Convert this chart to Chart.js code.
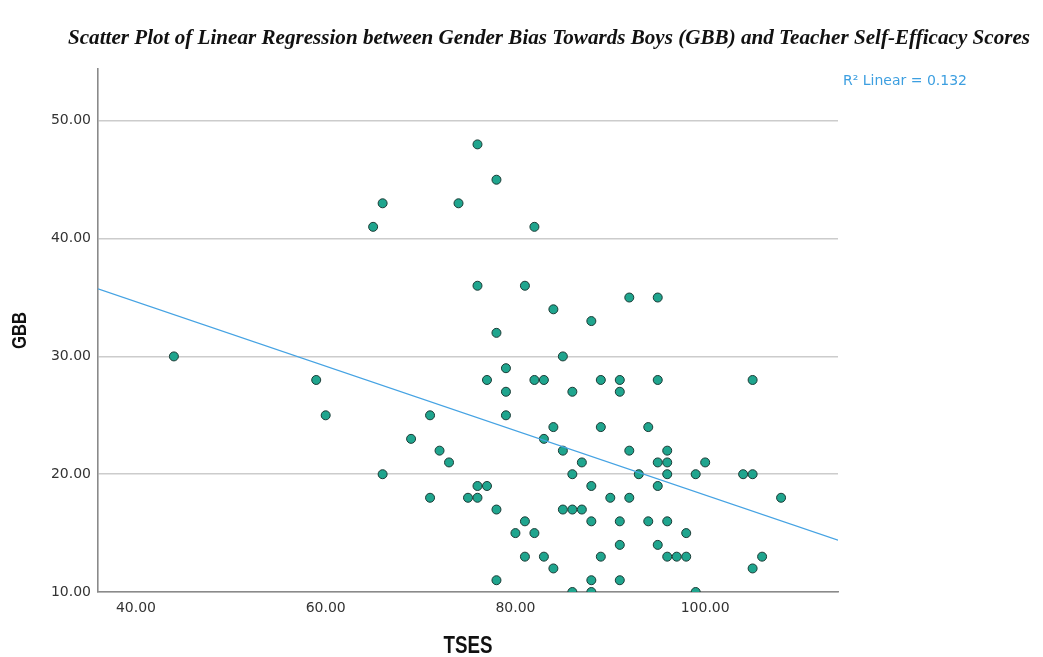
<!DOCTYPE html>
<html lang="en">
<head>
    <meta charset="UTF-8">
    <title>GBB vs TSES</title>
    <script src="https://cdn.jsdelivr.net/npm/chart.js"></script>
    <style>
        html, body { margin: 0; padding: 0; background: #ffffff; }
        #wrap { width: 1043px; height: 657px; position: relative; }
    </style>
</head>
<body>
    <div id="wrap">
        <canvas id="scatterChart" width="1043" height="657"></canvas>
    </div>
    <script>
        // TSES (x) and GBB (y) for each respondent
        const tsesValues = [44, 59, 60, 65, 66, 66, 69, 71, 71, 72, 73, 74, 75, 76, 76, 76, 76, 77, 77, 78,
            78, 78, 78, 79, 79, 79, 80, 81, 81, 81, 82, 82, 82, 83, 83, 83, 84, 84, 84, 85,
            85, 85, 86, 86, 86, 86, 87, 87, 88, 88, 88, 88, 88, 89, 89, 89, 90, 91, 91, 91,
            91, 91, 92, 92, 92, 93, 94, 94, 95, 95, 95, 95, 95, 96, 96, 96, 96, 96, 97, 98,
            98, 99, 99, 100, 104, 105, 105, 105, 106, 108];
        const gbbValues = [30, 28, 25, 41, 43, 20, 23, 25, 18, 22, 21, 43, 18, 48, 36, 19, 18, 28, 19, 45,
            32, 17, 11, 29, 27, 25, 15, 36, 16, 13, 41, 28, 15, 28, 23, 13, 34, 24, 12, 30,
            22, 17, 27, 20, 17, 10, 21, 17, 33, 19, 16, 11, 10, 28, 24, 13, 18, 28, 27, 16,
            14, 11, 35, 22, 18, 20, 24, 16, 35, 28, 21, 19, 14, 22, 21, 20, 16, 13, 13, 15,
            13, 20, 10, 21, 20, 28, 20, 12, 13, 18];

        // fitted line end points (linear fit drawn by SPSS)
        const fitX = [36, 114];
        const fitY = [35.73, 14.40];
        const rSquaredLabel = 'R\u00B2 Linear = 0.132';

        const xTicks = [40, 60, 80, 100];
        const yTicks = [10, 20, 30, 40, 50];

        const chartTitle = 'Scatter Plot of Linear Regression between Gender Bias Towards Boys (GBB) and Teacher Self-Efficacy Scores';
        const xTitle = 'TSES';
        const yTitle = 'GBB';

        const points = tsesValues.map((x, i) => ({ x: x, y: gbbValues[i] }));
        const fitLine = fitX.map((x, i) => ({ x: x, y: fitY[i] }));

        // draws text squeezed to a given width (the original uses condensed fonts)
        function squeezedText(ctx, text, cx, cy, width, rotate) {
            ctx.save();
            ctx.translate(cx, cy);
            if (rotate) ctx.rotate(-Math.PI / 2);
            const w = ctx.measureText(text).width;
            ctx.scale(width / w, 1);
            ctx.textAlign = 'center';
            ctx.fillText(text, 0, 0);
            ctx.restore();
        }

        const textPlugin = {
            id: 'textPlugin',
            afterDraw(chart) {
                const ctx = chart.ctx;
                const area = chart.chartArea;

                ctx.save();
                ctx.fillStyle = '#111111';
                ctx.textBaseline = 'alphabetic';
                ctx.font = 'italic bold 20px "Liberation Serif", "Times New Roman", serif';
                squeezedText(ctx, chartTitle, 549, 44, 962, false);

                ctx.textBaseline = 'middle';
                ctx.font = 'bold 24px "Liberation Sans", Arial, sans-serif';
                squeezedText(ctx, xTitle, (area.left + area.right) / 2, 646, 49, false);
                ctx.font = 'bold 20px "Liberation Sans", Arial, sans-serif';
                squeezedText(ctx, yTitle, 20, (area.top + area.bottom) / 2, 37, true);
                ctx.restore();

                ctx.save();
                ctx.font = '14px "DejaVu Sans", sans-serif';
                ctx.fillStyle = '#3d9fe0';
                ctx.textAlign = 'left';
                ctx.textBaseline = 'middle';
                ctx.fillText(rSquaredLabel, area.right + 5, area.top + 12);
                ctx.restore();
            }
        };

        new Chart(document.getElementById('scatterChart').getContext('2d'), {
            type: 'scatter',
            data: {
                datasets: [{
                    label: 'GBB',
                    data: points,
                    backgroundColor: '#1fa58e',
                    borderColor: '#1b3b35',
                    borderWidth: 1,
                    pointRadius: 4.5,
                    clip: 0,
                    order: 1
                }, {
                    label: 'Fit',
                    type: 'line',
                    data: fitLine,
                    borderColor: '#46a3e3',
                    borderWidth: 1.3,
                    pointRadius: 0,
                    fill: false,
                    clip: 0,
                    order: 0
                }]
            },
            options: {
                responsive: false,
                animation: false,
                layout: { padding: { top: 69, right: 205, left: 0, bottom: 0 } },
                plugins: {
                    legend: { display: false },
                    tooltip: { enabled: false }
                },
                scales: {
                    x: {
                        type: 'linear',
                        min: 36,
                        max: 114,
                        afterBuildTicks: scale => { scale.ticks = xTicks.map(v => ({ value: v })); },
                        afterFit: scale => { scale.height = 65; },
                        grid: { display: false, drawTicks: false },
                        border: { display: true, color: '#8a8a8a', width: 1.6 },
                        ticks: {
                            padding: 8,
                            color: '#333333',
                            font: { family: '"DejaVu Sans", sans-serif', size: 14 },
                            callback: v => Number(v).toFixed(2)
                        }
                    },
                    y: {
                        type: 'linear',
                        min: 10,
                        max: 54.4,
                        afterBuildTicks: scale => { scale.ticks = yTicks.map(v => ({ value: v })); },
                        afterFit: scale => { scale.width = 98; },
                        grid: { display: true, drawTicks: false, color: '#cccccc', lineWidth: 1.6 },
                        border: { display: true, color: '#8a8a8a', width: 1.6 },
                        ticks: {
                            padding: 7,
                            color: '#333333',
                            font: { family: '"DejaVu Sans", sans-serif', size: 14 },
                            callback: v => Number(v).toFixed(2)
                        }
                    }
                }
            },
            plugins: [textPlugin]
        });
    </script>
</body>
</html>
